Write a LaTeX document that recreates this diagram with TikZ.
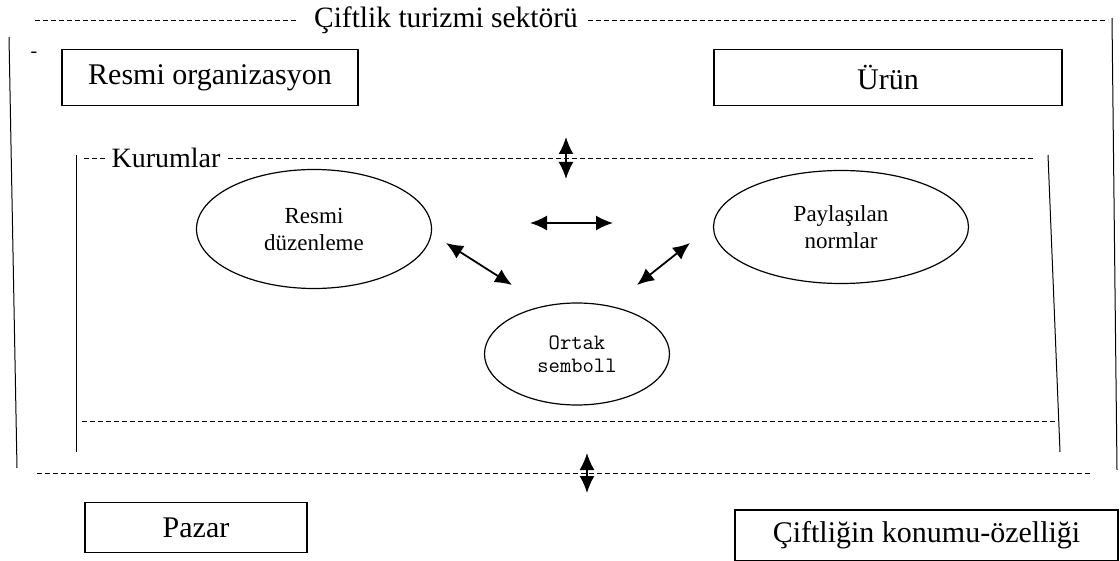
\documentclass[tikz,border=0pt]{standalone}
\usepackage{fontspec}
\setmainfont{Liberation Serif}
\usetikzlibrary{arrows.meta,shapes.geometric}
\begin{document}
\begin{tikzpicture}[x=1pt,y=-1pt,
  dashline/.style={dash pattern=on 5pt off 3pt, line width=0.9pt},
  frameline/.style={line width=1pt},
  bigbox/.style={draw, line width=1.6pt, inner sep=0pt, font=\fontsize{30}{32}\selectfont},
  oval/.style={draw, ellipse, line width=1.2pt, inner sep=0pt, align=center, font=\fontsize{23}{27}\selectfont},
  tip/.tip={Latex[length=17pt,width=15pt]},
  biarrow/.style={tip-tip, line width=1.8pt},
  lbl/.style={inner sep=0pt, font=\fontsize{29.5}{32}\selectfont}]
\useasboundingbox (0,0) rectangle (1120,561);
% outer frame
\node[lbl] (title) at (446,20) {Çiftlik turizmi sektörü};
\coordinate (t1) at (35,20);
\coordinate (t2) at (297,20);
\coordinate (t3) at (588,20);
\coordinate (t4) at (1108,20);
\draw[dashline] (t1) -- (t2);
\draw[dashline] (t3) -- (t4);
\coordinate (or1) at (1112,18);
\coordinate (or2) at (1117,470);
\draw[frameline] (or1) -- (or2);
\coordinate (ol1) at (9,37);
\coordinate (ol2) at (17,468);
\draw[frameline] (ol1) -- (ol2);
\node[inner sep=0pt, font=\fontsize{20}{22}\selectfont] (dash) at (34,55) {-};
\coordinate (ob1) at (37,473);
\coordinate (ob2) at (1092,473);
\draw[dashline] (ob1) -- (ob2);
% top boxes
\node[bigbox, minimum width=296pt, minimum height=56pt] (org) at (210,77.5) {Resmi organizasyon};
\node[bigbox, minimum width=348pt, minimum height=56pt] (urun) at (888,77.5) {Ürün};
% inner frame
\node[lbl, font=\fontsize{28}{30}\selectfont] (kur) at (166,158) {Kurumlar};
\coordinate (k1) at (84,158);
\coordinate (k2) at (106,158);
\coordinate (k3) at (228,158);
\coordinate (k4) at (1035,158);
\draw[dashline] (k1) -- (k2);
\draw[dashline] (k3) -- (k4);
\coordinate (il1) at (76,155);
\coordinate (il2) at (76,452);
\draw[frameline] (il1) -- (il2);
\coordinate (ir1) at (1048,155);
\coordinate (ir2) at (1060,452);
\draw[frameline] (ir1) -- (ir2);
\coordinate (ib1) at (82,421);
\coordinate (ib2) at (1055,421);
\draw[dashline] (ib1) -- (ib2);
% ellipses
\node[oval, minimum width=235pt, minimum height=119pt] (duz) at (314,229) {Resmi\\düzenleme};
\node[oval, minimum width=255pt, minimum height=113pt] (pay) at (841,227) {Paylaşılan\\normlar};
\node[oval, minimum width=185pt, minimum height=102pt, font=\ttfamily\fontsize{22}{23}\selectfont] (ort) at (577,354) {Ortak\\semboll};
% arrows
\coordinate (va1) at (566,137);
\coordinate (va2) at (566,179);
\draw[biarrow] (va1) -- (va2);
\coordinate (ha1) at (530,223);
\coordinate (ha2) at (613,223);
\draw[biarrow] (ha1) -- (ha2);
\coordinate (la1) at (446,243);
\coordinate (la2) at (512,285);
\draw[biarrow] (la1) -- (la2);
\coordinate (ra1) at (690,243);
\coordinate (ra2) at (637,285);
\draw[biarrow] (ra1) -- (ra2);
\coordinate (vb1) at (587,453);
\coordinate (vb2) at (587,493);
\draw[biarrow] (vb1) -- (vb2);
% bottom boxes
\node[bigbox, minimum width=222pt, minimum height=50pt] (pazar) at (196,527.5) {Pazar};
\node[bigbox, minimum width=383pt, minimum height=51pt] (konum) at (926.5,535.5) {Çiftliğin konumu-özelliği};
\end{tikzpicture}
\end{document}
